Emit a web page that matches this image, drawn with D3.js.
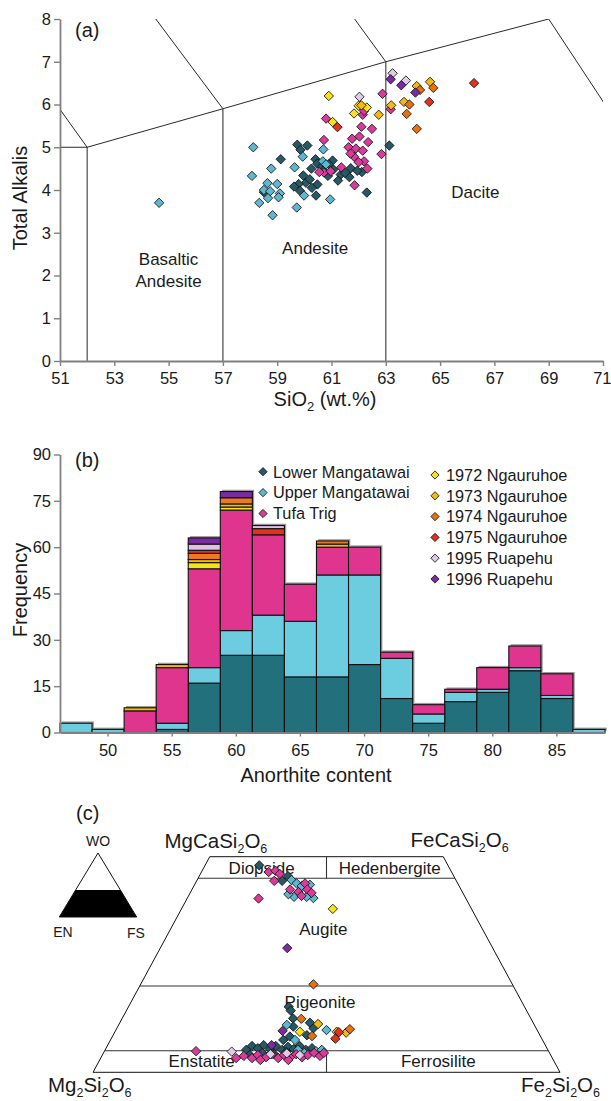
<!DOCTYPE html>
<html><head><meta charset="utf-8">
<script src="https://cdn.jsdelivr.net/npm/d3@7/dist/d3.min.js"></script>
<style>
body{margin:0;background:#fff}
text{font-family:"Liberation Sans",Arial,sans-serif;fill:#1a1a1a}
</style>
</head><body>
<svg id="c" width="611" height="1101"></svg>
<script>
// ---------------- DATA ----------------
const seriesNames = ["Lower Mangatawai","Upper Mangatawai","Tufa Trig","1972 Ngauruhoe","1973 Ngauruhoe","1974 Ngauruhoe","1975 Ngauruhoe","1995 Ruapehu","1996 Ruapehu"];
const markerColors = ["#275866","#5cb8d0","#dc3a9a","#f7e21a","#f6b90e","#e8700f","#e0321d","#ddcbe9","#7a2ba2"];
const barColors    = ["#23707d","#6dcde0","#e0358f","#f7e21a","#f6b90e","#ec7b1f","#e0321d","#e2bfe6","#7a2ba2"];

// Panel (a): TAS [SiO2, total alkalis]
const tasLower = [[63.13,5.04],[62.3,3.94],[62.12,4.42],[59.74,5.06],[60.11,5.04],[59.86,4.94],[59.13,4.72],[60.41,4.72],[60.48,4.62],[61.04,4.69],[61.07,4.48],[60.26,4.5],[61.71,4.51],[61.34,4.36],[61.66,4.3],[61.24,4.22],[60.87,4.33],[59.96,4.34],[60.06,4.17],[59.79,4.14],[59.62,4.08],[60.48,4.13],[60.43,3.87],[59.84,3.98],[60.28,4.05],[58.51,3.95],[60.65,4.55],[60.9,4.6],[60.2,4.25],[61.5,4.4],[60.7,4.45],[61.95,4.45]];
const tasUpper = [[54.65,3.7],[58.12,5.0],[59.94,4.78],[58.78,4.5],[59.64,4.53],[60.68,4.67],[60.7,4.95],[58.07,4.33],[58.64,4.16],[59.0,4.14],[58.51,4.0],[58.74,3.97],[59.1,3.92],[59.05,3.83],[58.34,3.7],[58.66,3.81],[59.99,3.87],[59.72,3.59],[60.95,3.78],[58.83,3.41],[60.8,4.6]];
const tasTufa = [[63.18,5.89],[62.88,6.25],[62.15,5.76],[60.8,5.67],[62.1,5.48],[62.49,5.43],[60.72,5.17],[61.76,5.2],[62.03,5.25],[62.35,5.12],[61.63,5.0],[61.9,4.97],[62.15,4.92],[61.83,4.78],[62.84,4.84],[62.2,4.67],[62.32,4.5],[61.36,4.53],[60.72,4.41],[60.97,4.44],[60.55,4.42],[61.85,4.11],[62.2,5.85],[61.7,4.85],[62.0,4.65]];
const tas1972 = [[60.9,6.2],[62.3,5.93],[61.83,5.79],[61.04,5.59],[62.0,5.97]];
const tas1973 = [[64.63,6.53],[64.14,6.43],[63.67,6.06],[63.2,5.98],[62.1,5.98],[62.74,5.76]];
const tas1974 = [[64.75,6.39],[64.26,6.34],[63.87,6.0],[63.77,5.78],[64.14,5.43]];
const tas1975 = [[66.25,6.5],[64.6,6.06],[61.22,5.47]];
const tas1995 = [[63.25,6.73],[63.74,6.56],[62.03,6.18]];
const tas1996 = [[63.18,6.59],[63.57,6.45],[64.09,6.28]];
const tasXTicks = [51,53,55,57,59,61,63,65,67,69,71];
const tasYTicks = [0,1,2,3,4,5,6,7,8];

// Panel (b): histogram counts per anorthite bin
const anBins = ["47.5","50","52.5","55","57.5","60","62.5","65","67.5","70","72.5","75","77.5","80","82.5","85","87.5"];
const anTickLabels = ["50","55","60","65","70","75","80","85"];
const freqTicks = [0,15,30,45,60,75,90];
const nLower = [0,0,0,1,16,25,25,18,18,22,11,3,10,13,20,11,0];
const nUpper = [3,1,0,2,5,8,13,18,33,29,13,3,3,1,1,1,1];
const nTufa  = [0,0,7,18,32,39,26,12,9,9,2,3,1,7,7,7,0];
const n1972  = [0,0,0,0,2,1,0,0,0,0,0,0,0,0,0,0,0];
const n1973  = [0,0,1,1,1,1,0,0,1,0,0,0,0,0,0,0,0];
const n1974  = [0,0,0,0,2,2,0,0,1,0,0,0,0,0,0,0,0];
const n1975  = [0,0,0,0,1,0,2,0,0,0,0,0,0,0,0,0,0];
const n1995  = [0,0,0,0,2,0,1,0,0,0,0,0,0,0,0,0,0];
const n1996  = [0,0,0,0,2,2,0,0,0,0,0,0,0,0,0,0,0];

// Panel (c): pyroxene [Wo, Fs] (mol %)
const pxLower = [[48.0,11.6],[45.5,19],[44.4,18.3],[15.2,34.3],[14.3,35.2],[12.5,36.6],[11.5,40.7],[10.2,42.1],[10.6,37.6],[8.3,38.0],[7.5,37.0],[8.6,41.5],[5.2,30.2],[6.1,31.0],[5.6,32.5],[6.3,33.4],[5.4,35.2],[6.1,36.1],[5.2,37.9],[5.9,38.8],[5.4,40.3],[6.1,41.2],[5.2,43.0],[5.6,44.1],[4.5,34.0],[4.2,36.7],[4.7,39.0],[4.0,31.6]];
const pxUpper = [[44.6,20.2],[43.8,21.7],[43.2,23.1],[40.7,22.7],[40.4,27],[40.7,25.4],[41.3,21.2],[43.5,24.7],[9.8,45.1],[11,36],[7.5,39.5],[5.2,41.3],[4.9,45.3],[5.2,46.4],[4.5,43.0]];
const pxTufa = [[46.45,14.4],[46.75,15.7],[46,17],[44.4,16.6],[42.4,21],[43.8,23.5],[41.8,23.1],[42.4,24.7],[41.6,26],[40.9,24.2],[40.3,15.3],[3.8,30.4],[3.3,32.4],[4.0,33.3],[3.5,35.3],[4.2,36.2],[3.3,38.0],[4.0,38.9],[3.5,40.5],[4.2,41.4],[3.5,43.0],[4.0,44.0],[4.5,45.1],[3.8,46.7],[4.5,47.2],[3.3,29.0],[4.9,19.6],[2.85,34.4],[2.85,40.4]];
const px1972 = [[37.9,32.4],[9.4,39.6]];
const px1973 = [[11.2,42.6],[9.4,47.5],[9.2,49.6]];
const px1974 = [[20.4,37],[12.4,38.4],[8.4,42.7],[10,50]];
const px1975 = [[9.3,48],[7.8,48]];
const px1995 = [[4.8,27.3],[4.2,35.9],[4.4,39.3],[4.0,42.3]];
const px1996 = [[6.3,35.1],[9.6,35.8],[28.8,27.2]];

// ---------------- DRAW ----------------
const svg = d3.select("#c");
const FONT = '"Liberation Sans", Arial, sans-serif';
const axisGray = "#808080";
const diamond = d3.symbol().type(d3.symbolSquare).size(44);
const diamondLeg = d3.symbol().type(d3.symbolSquare).size(34);

function styleAxis(g, fs){
  g.select(".domain").attr("stroke", axisGray).attr("stroke-width", 1.8);
  g.selectAll(".tick line").attr("stroke", axisGray).attr("stroke-width", 1.4);
  g.selectAll(".tick text").attr("font-family", FONT).attr("font-size", fs).attr("fill","#1a1a1a");
}
function drawDiamonds(g, data, color, fx, fy){
  g.selectAll(null).data(data).enter().append("path")
    .attr("d", diamond)
    .attr("transform", d => `translate(${fx(d)},${fy(d)}) rotate(45)`)
    .attr("fill", color).attr("stroke", "#111").attr("stroke-width", 0.8);
}

// ===== Panel (a) =====
const xa = d3.scaleLinear().domain([51,71]).range([60,603]);
const ya = d3.scaleLinear().domain([0,8]).range([361,19]);
const ga = svg.append("g");
ga.append("clipPath").attr("id","clipA").append("rect")
  .attr("x",xa(51)).attr("y",ya(8)).attr("width",xa(71)-xa(51)).attr("height",ya(0)-ya(8));
const tasThin = [
  [[51,5],[52,5]], [[52,0],[52,5]], [[52,5],[49.4,7.3]],
  [[52,5],[57,5.9],[63,7],[69,8]], [[57,5.9],[53,9.3]], [[63,7],[57.6,11.7]],
  [[69,8],[77.3,0]], [[69,8],[71.8,13.5]]
];
const tasThick = [[[57,0],[57,5.9]], [[63,0],[63,7]]];
const lineA = d3.line().x(d=>xa(d[0])).y(d=>ya(d[1]));
const lg = ga.append("g").attr("clip-path","url(#clipA)");
tasThin.forEach(s => lg.append("path").attr("d", lineA(s)).attr("fill","none").attr("stroke","#111").attr("stroke-width",0.9));
tasThick.forEach(s => lg.append("path").attr("d", lineA(s)).attr("fill","none").attr("stroke","#555").attr("stroke-width",1.3));

const axA_y = ga.append("g").attr("transform",`translate(${xa(51)},0)`)
  .call(d3.axisLeft(ya).tickValues(tasYTicks).tickFormat(d3.format("d")).tickSize(6).tickSizeOuter(0).tickPadding(3));
styleAxis(axA_y, 16.5);
const axA_x = ga.append("g").attr("transform",`translate(0,${ya(0)})`)
  .call(d3.axisBottom(xa).tickValues(tasXTicks).tickFormat(d3.format("d")).tickSize(5).tickSizeOuter(0).tickPadding(6));
styleAxis(axA_x, 16.5);
axA_x.selectAll(".tick text").filter(d=>d===71).attr("text-anchor","end").attr("dx", 8);

// region labels
const regA = [["Basaltic",55,2.39],["Andesite",55,1.87],["Andesite",60.4,2.64],["Dacite",66.3,3.95]];
ga.selectAll(null).data(regA).enter().append("text")
  .attr("x", d=>xa(d[1])).attr("y", d=>ya(d[2])+6)
  .attr("text-anchor","middle").attr("font-size",17).text(d=>d[0]);

const tasSets = [tasLower,tasUpper,tasTufa,tas1972,tas1973,tas1974,tas1975,tas1995,tas1996];
const pg = ga.append("g");
tasSets.forEach((s,i)=> drawDiamonds(pg, s, markerColors[i], d=>xa(d[0]), d=>ya(d[1])));

ga.append("text").attr("x",75).attr("y",37).attr("font-size",20).text("(a)");
ga.append("text").attr("transform","translate(27,198) rotate(-90)").attr("text-anchor","middle")
  .attr("font-size",20).text("Total Alkalis");
const sio = ga.append("text").attr("x",325).attr("y",406).attr("text-anchor","middle").attr("font-size",20);
sio.append("tspan").text("SiO");
sio.append("tspan").attr("font-size",13).attr("dy",5).text("2");
sio.append("tspan").attr("dy",-5).text(" (wt.%)");

// ===== Panel (b) =====
const xb = d3.scaleBand().domain(anBins).range([60,605]).padding(0);
const yb = d3.scaleLinear().domain([0,90]).range([732.5,454.5]);
const gb = svg.append("g");
const countSets = [nLower,nUpper,nTufa,n1972,n1973,n1974,n1975,n1995,n1996];
const table = anBins.map((b,i)=>{ const o={bin:b}; countSets.forEach((s,k)=>o["s"+k]=s[i]); return o; });
const keys = countSets.map((_,k)=>"s"+k);
const stacked = d3.stack().keys(keys)(table);
const totals = table.map(o=> keys.reduce((a,k)=>a+o[k],0));
// shadow
gb.selectAll(null).data(table).enter().append("rect")
  .attr("x", d=>xb(d.bin)+1.8).attr("y", (d,i)=>yb(totals[i])-1.8)
  .attr("width", xb.bandwidth()).attr("height",(d,i)=>yb(0)-yb(totals[i]))
  .attr("fill","#9a9a9a").attr("opacity",(d,i)=>totals[i]>0?1:0);
stacked.forEach((layer,k)=>{
  gb.selectAll(null).data(layer.filter(d=>d[1]-d[0]>0)).enter().append("rect")
    .attr("x", d=>xb(d.data.bin)).attr("y", d=>yb(d[1]))
    .attr("width", xb.bandwidth()).attr("height", d=>yb(d[0])-yb(d[1]))
    .attr("fill", barColors[k]).attr("stroke","#111").attr("stroke-width",1.1);
});
const axB_y = gb.append("g").attr("transform",`translate(60,0)`)
  .call(d3.axisLeft(yb).tickValues(freqTicks).tickSize(6).tickSizeOuter(0).tickPadding(3));
styleAxis(axB_y, 16.5);
const axB_x = gb.append("g").attr("transform",`translate(0,${yb(0)})`)
  .call(d3.axisBottom(xb).tickValues(anTickLabels).tickSize(4).tickSizeOuter(0).tickPadding(8));
styleAxis(axB_x, 16.5);
gb.append("text").attr("x",75).attr("y",467).attr("font-size",20).text("(b)");
gb.append("text").attr("transform","translate(27,590) rotate(-90)").attr("text-anchor","middle")
  .attr("font-size",20).text("Frequency");
gb.append("text").attr("x",316).attr("y",782).attr("text-anchor","middle").attr("font-size",20).text("Anorthite content");

// legend
const legLeft = [0,1,2], legRight = [3,4,5,6,7,8];
legLeft.forEach((k,i)=>{
  const y = 471.7 + i*20.9;
  gb.append("path").attr("d",diamondLeg).attr("transform",`translate(263,${y}) rotate(45)`)
    .attr("fill",markerColors[k]).attr("stroke","#111").attr("stroke-width",0.8);
  gb.append("text").attr("x",273).attr("y",y+5.8).attr("font-size",16.3).text(seriesNames[k]);
});
legRight.forEach((k,i)=>{
  const y = 475 + i*20.8;
  gb.append("path").attr("d",diamondLeg).attr("transform",`translate(435,${y}) rotate(45)`)
    .attr("fill",markerColors[k]).attr("stroke","#111").attr("stroke-width",0.8);
  gb.append("text").attr("x",446).attr("y",y+5.8).attr("font-size",16.3).text(seriesNames[k]);
});

// ===== Panel (c) =====
const xq = d3.scaleLinear().domain([0,100]).range([93,560]);   // Fs + Wo/2
const yq = d3.scaleLinear().domain([0,50]).range([1072.3,856.7]); // Wo
const tern = d => [xq(d[1] + d[0]/2), yq(d[0])];
const lineC = d3.line().x(d=>tern(d)[0]).y(d=>tern(d)[1]);
const gc = svg.append("g");
// outline [Wo, Fs]
gc.append("path").attr("d", lineC([[0,0],[0,100],[50,50],[50,0]])+"Z")
  .attr("fill","none").attr("stroke","#111").attr("stroke-width",1);
const innerLines = [[[45,0],[45,55]],[[20,0],[20,80]],[[5,0],[5,95]],[[50,25],[45,27.5]],[[5,47.5],[0,50]]];
innerLines.forEach(s=> gc.append("path").attr("d",lineC(s)).attr("fill","none").attr("stroke","#333").attr("stroke-width",1.1));

const regC = [["Diopside",261.7,873.5],["Hedenbergite",389.7,873.5],["Augite",323.3,935],["Pigeonite",320,1008],["Enstatite",201.7,1067],["Ferrosilite",438.3,1067]];
gc.selectAll(null).data(regC).enter().append("text")
  .attr("x",d=>d[1]).attr("y",d=>d[2]).attr("text-anchor","middle").attr("font-size",17).text(d=>d[0]);

function formula(x,y,parts){
  const t = gc.append("text").attr("x",x).attr("y",y).attr("font-size",20.5);
  let prevSub = false;
  parts.forEach(p=>{
    if (p[1]) { t.append("tspan").attr("font-size",12.5).attr("dy",5).text(p[0]); prevSub = true; }
    else { t.append("tspan").attr("dy", prevSub ? -5 : 0).text(p[0]); prevSub = false; }
  });
}
formula(164.5,848,[["MgCaSi",0],["2",1],["O",0],["6",1]]);
formula(410.5,847,[["FeCaSi",0],["2",1],["O",0],["6",1]]);
formula(48,1092,[["Mg",0],["2",1],["Si",0],["2",1],["O",0],["6",1]]);
formula(521,1092,[["Fe",0],["2",1],["Si",0],["2",1],["O",0],["6",1]]);

const pxSets = [pxLower,pxUpper,pxTufa,px1972,px1973,px1974,px1975,px1995,px1996];
const pgc = gc.append("g");
pxSets.forEach((s,i)=> drawDiamonds(pgc, s, markerColors[i], d=>tern(d)[0], d=>tern(d)[1]));

// mini triangle key
const apex=[98,853], bl=[59.3,917], br=[136.7,917];
const bandTop = 890, f = (bandTop-apex[1])/(bl[1]-apex[1]);
gc.append("path").attr("d",`M${apex[0]-f*(apex[0]-bl[0])},${bandTop}L${apex[0]+f*(br[0]-apex[0])},${bandTop}L${br[0]},${br[1]}L${bl[0]},${bl[1]}Z`).attr("fill","#000");
gc.append("path").attr("d",`M${apex[0]},${apex[1]}L${br[0]},${br[1]}L${bl[0]},${bl[1]}Z`).attr("fill","none").attr("stroke","#111").attr("stroke-width",1);
gc.append("text").attr("x",98).attr("y",846).attr("text-anchor","middle").attr("font-size",14).text("WO");
gc.append("text").attr("x",63).attr("y",937).attr("text-anchor","middle").attr("font-size",14).text("EN");
gc.append("text").attr("x",136).attr("y",938).attr("text-anchor","middle").attr("font-size",14).text("FS");
gc.append("text").attr("x",76).attr("y",820).attr("font-size",20).text("(c)");
</script>
</body></html>
